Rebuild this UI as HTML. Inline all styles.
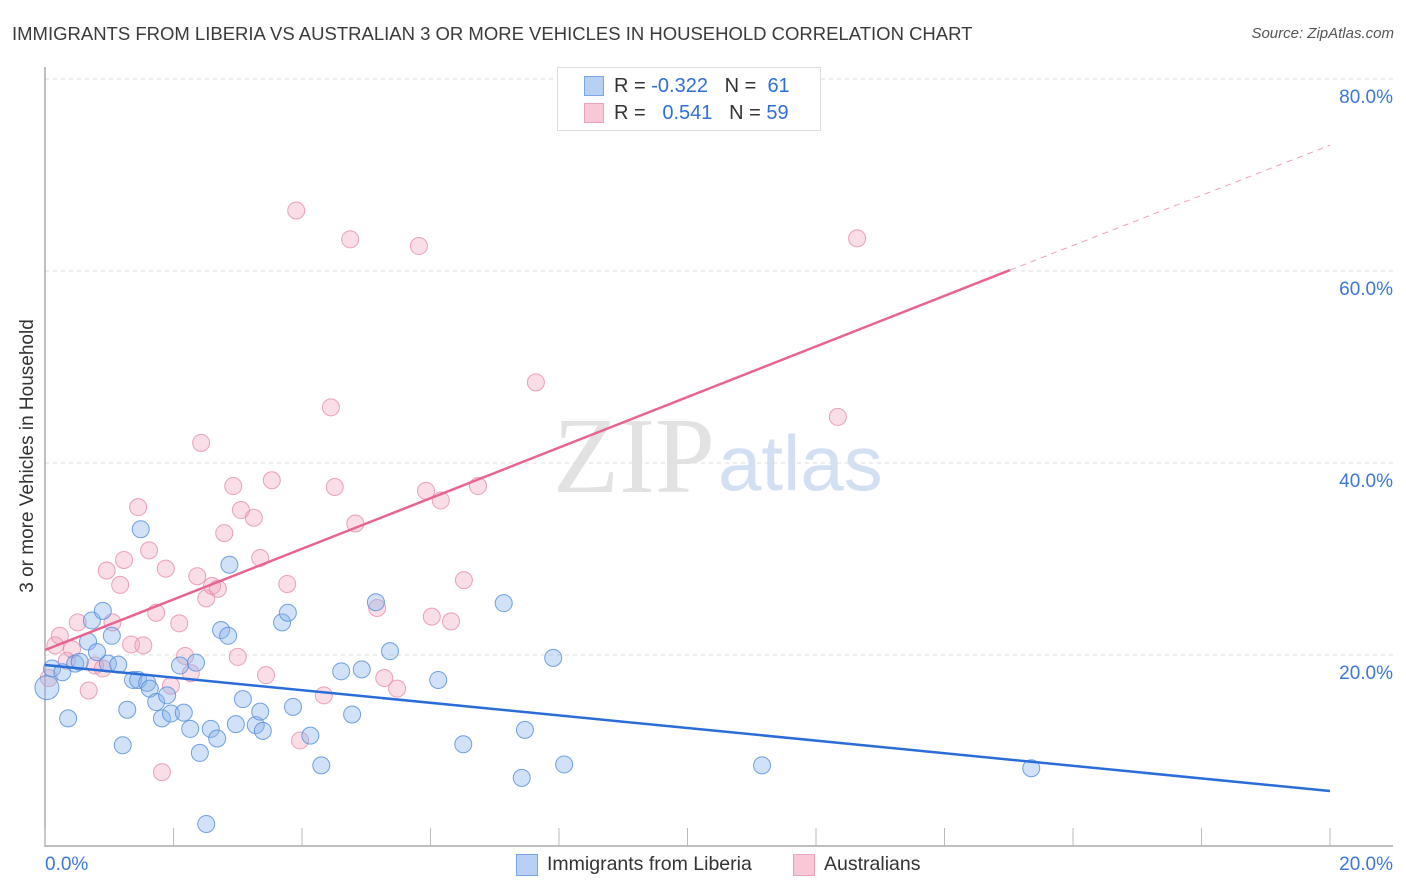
<!DOCTYPE html>
<html><head><meta charset="utf-8"><style>
body{margin:0;background:#fff;font-family:"Liberation Sans",sans-serif;}
#wrap{position:relative;width:1406px;height:892px;overflow:hidden;}
.t{position:absolute;white-space:nowrap;}
</style></head><body>
<div id="wrap">
<div class="t" style="left:12px;top:23px;font-size:18.5px;color:#3a3a3a;">IMMIGRANTS FROM LIBERIA VS AUSTRALIAN 3 OR MORE VEHICLES IN HOUSEHOLD CORRELATION CHART</div>
<div class="t" style="right:12px;top:25px;font-size:15px;color:#555;font-style:italic;">Source: ZipAtlas.com</div>
<div class="t" style="left:28px;top:456px;font-size:19px;color:#333;transform:translate(-50%,-50%) rotate(-90deg);">3 or more Vehicles in Household</div>
<svg id="svg" width="1406" height="892" style="position:absolute;left:0;top:0"></svg>
<div style="position:absolute;left:557px;top:67px;width:262px;height:62px;border:1px solid #ddd;background:#fff;"></div>
<div style="position:absolute;left:584px;top:76px;width:18px;height:18px;background:#b8d0f3;border:1px solid #7aa6e6;"></div>
<div style="position:absolute;left:584px;top:103px;width:18px;height:18px;background:#f8c8d7;border:1px solid #eba3bb;"></div>
<div class="t" style="left:614px;top:75px;font-size:20px;color:#333;">R = <span style="color:#2f6fd6">-0.322</span>&nbsp;&nbsp;&nbsp;N = &nbsp;<span style="color:#2f6fd6">61</span></div>
<div class="t" style="left:614px;top:102px;font-size:20px;color:#333;">R = &nbsp;&nbsp;<span style="color:#2f6fd6">0.541</span>&nbsp;&nbsp;&nbsp;N = <span style="color:#2f6fd6">59</span></div>
<div style="position:absolute;left:516px;top:854px;width:20px;height:20px;background:#b8d0f3;border:1px solid #7aa6e6;"></div>
<div class="t" style="left:547px;top:853px;font-size:19.5px;color:#333;">Immigrants from Liberia</div>
<div style="position:absolute;left:793px;top:854px;width:20px;height:20px;background:#f8c8d7;border:1px solid #eba3bb;"></div>
<div class="t" style="left:824px;top:853px;font-size:19.5px;color:#333;">Australians</div>
</div>
<script>
const yTicks=[20,40,60,80];
const yTickLabels=["20.0%","40.0%","60.0%","80.0%"];
const xTickLabels=["0.0%","20.0%"];
const blueX=[0.03,0.11,0.27,0.36,0.47,0.54,0.67,0.73,0.81,0.9,0.98,1.04,1.14,1.21,1.28,1.37,1.45,1.49,1.59,1.63,1.73,1.82,1.9,1.96,2.1,2.16,2.26,2.35,2.41,2.51,2.58,2.68,2.74,2.87,2.85,2.97,3.08,3.28,3.35,3.39,3.69,3.78,3.86,4.13,4.3,4.61,4.78,4.93,5.15,5.37,6.12,6.51,7.14,7.42,7.47,7.91,8.08,11.16,15.35];
const blueY=[16.6,18.6,18.2,13.4,19.1,19.3,21.4,23.6,20.3,24.6,19.1,22.0,19.0,10.6,14.3,17.4,17.4,33.1,17.1,16.5,15.1,13.4,15.8,13.9,18.9,14.0,12.3,19.2,9.8,2.4,12.3,11.3,22.6,29.4,22.0,12.8,15.4,12.7,14.1,12.1,23.4,24.4,14.6,11.6,8.5,18.3,13.8,18.5,25.5,20.4,17.4,10.7,25.4,7.2,12.2,19.7,8.6,8.5,8.2];
const pinkX=[0.06,0.16,0.23,0.34,0.42,0.51,0.68,0.78,0.9,0.96,1.05,1.17,1.23,1.34,1.45,1.53,1.62,1.73,1.82,1.88,1.96,2.09,2.18,2.27,2.37,2.43,2.51,2.6,2.69,2.79,2.93,3.05,3.0,3.25,3.35,3.44,3.53,3.77,3.91,3.97,4.34,4.45,4.51,4.75,4.83,5.17,5.28,5.48,5.82,5.93,6.02,6.16,6.32,6.52,6.74,7.64,12.34,12.64];
const pinkY=[17.6,21.0,22.0,19.4,20.6,23.4,16.3,18.9,18.6,28.8,23.4,27.3,29.9,21.1,35.4,21.0,30.9,24.4,7.8,29.0,16.8,23.3,19.9,18.1,28.2,42.1,25.9,27.2,26.9,32.7,37.6,35.1,19.8,34.3,30.1,17.9,38.2,27.4,66.3,11.1,15.8,45.8,37.5,63.3,33.7,24.9,17.6,16.5,62.6,37.1,24.0,36.1,23.5,27.8,37.6,48.4,44.8,63.4];
const blueTrend=[[0,18.96],[20,5.83]];
const pinkTrend=[[0,20.52],[15.02,60.1]];
const pinkDash=[[15.02,60.1],[20,73.1]];
const svg=document.getElementById('svg');
const NS='http://www.w3.org/2000/svg';
const X=v=>45+v/20*1285, Y=v=>847-v*9.6;
function mk(t,a){const e=document.createElementNS(NS,t);for(const k in a)e.setAttribute(k,a[k]);svg.appendChild(e);return e;}
let w=mk('text',{x:553,y:492,'font-size':108,fill:'#e2e2e2','font-family':'Liberation Serif,serif'});w.textContent='ZIP';


w=mk('text',{x:718,y:490,'font-size':78,fill:'#d3e0f3','font-family':'Liberation Sans,sans-serif'});w.textContent='atlas';


yTicks.forEach((v,i)=>{
 const g=mk('line',{x1:45,x2:1393,y1:Y(v),y2:Y(v),stroke:'#ddd','stroke-dasharray':'4,4'});
 
 
 const t=mk('text',{x:1393,y:Y(v)+24,'text-anchor':'end','font-size':19,fill:'#3b78d8','font-family':'Liberation Sans,sans-serif'});t.textContent=yTickLabels[i];
 
 
});
let ax=mk('line',{x1:45,x2:45,y1:67,y2:847,stroke:'#aaa','stroke-width':1.5});


ax=mk('line',{x1:45,x2:1393,y1:846,y2:846,stroke:'#aaa','stroke-width':1.5});


for(let i=0;i<=10;i++){const tk=mk('line',{x1:X(i*2),x2:X(i*2),y1:828,y2:846,stroke:'#bbb'});
 
 }
[[0,'start',45],[1,'end',1393]].forEach(([i,a,x])=>{const t=mk('text',{x:x,y:870,'text-anchor':a,'font-size':19,fill:'#3b78d8','font-family':'Liberation Sans,sans-serif'});t.textContent=xTickLabels[i];
 
 });
pinkX.forEach((v,i)=>{const c=mk('circle',{cx:X(v),cy:Y(pinkY[i]),r:8.5,fill:'rgba(242,160,186,0.35)',stroke:'rgba(230,140,170,0.8)','stroke-width':1});
 
 });
blueX.forEach((v,i)=>{const c=mk('circle',{cx:X(v),cy:Y(blueY[i]),r:i==0?12:8.5,fill:'rgba(140,180,235,0.4)',stroke:'rgba(80,140,220,0.8)','stroke-width':1});
 
 });
let l=mk('line',{x1:X(blueTrend[0][0]),y1:Y(blueTrend[0][1]),x2:X(blueTrend[1][0]),y2:Y(blueTrend[1][1]),stroke:'#2a6dd9','stroke-width':2.5});


l=mk('line',{x1:X(pinkTrend[0][0]),y1:Y(pinkTrend[0][1]),x2:X(pinkTrend[1][0]),y2:Y(pinkTrend[1][1]),stroke:'#e8648f','stroke-width':2.5});


l=mk('line',{x1:X(pinkDash[0][0]),y1:Y(pinkDash[0][1]),x2:X(pinkDash[1][0]),y2:Y(pinkDash[1][1]),stroke:'#eea0b8','stroke-width':1,'stroke-dasharray':'6,5'});


</script>
</body></html>
